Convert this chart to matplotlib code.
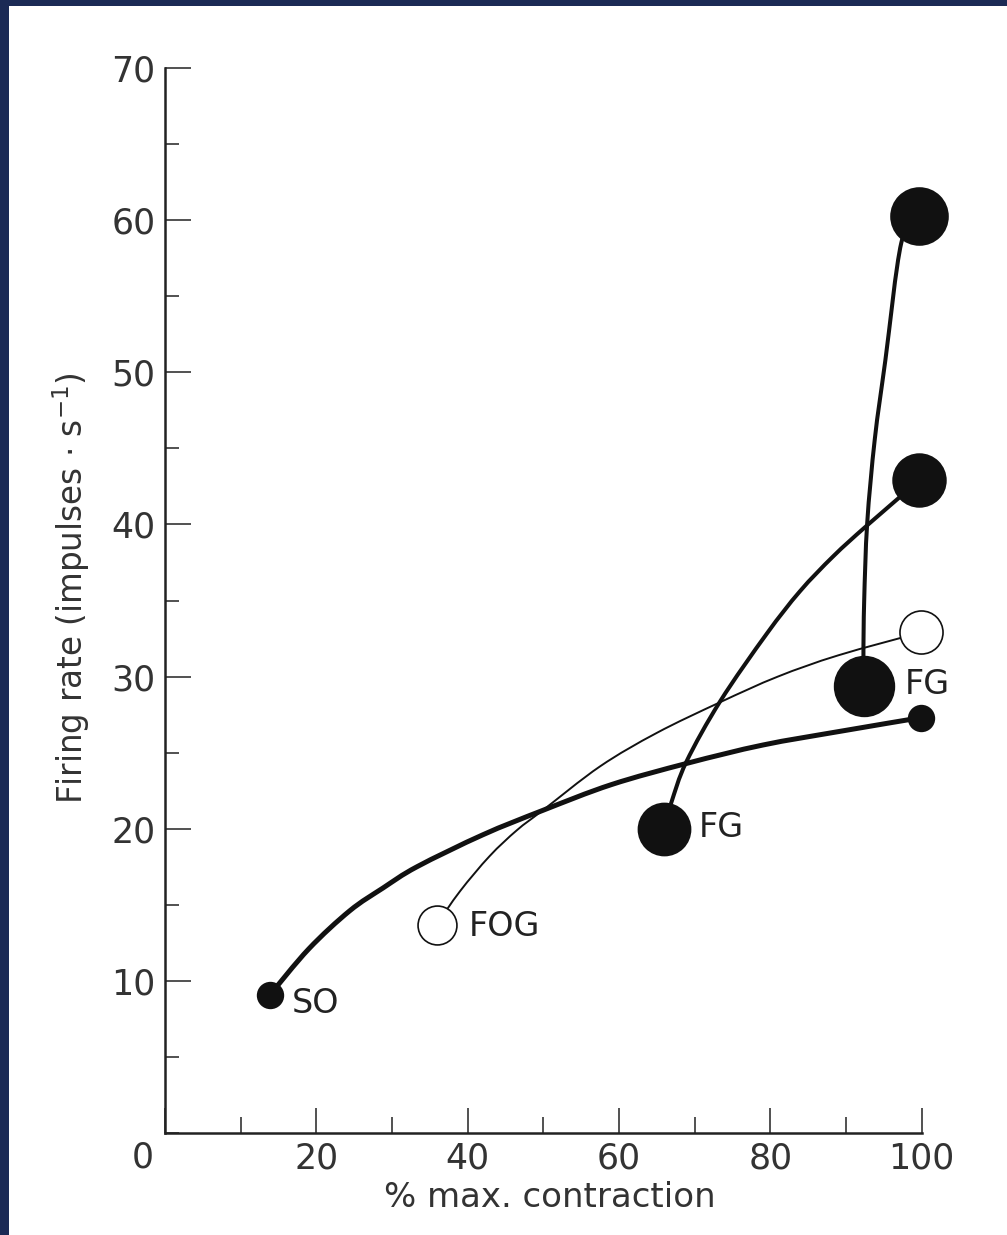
import matplotlib
matplotlib.use("Agg")
import matplotlib.pyplot as plt
from matplotlib.patches import Rectangle, PathPatch
from matplotlib.path import Path
from matplotlib.transforms import blended_transform_factory
from matplotlib.ticker import MultipleLocator

plt.rcParams['font.family'] = ['DejaVu Sans']

# --- data (x: % max contraction, y: firing rate) ---
so_x = [13.9, 19.0, 24.4, 28.8, 33.3, 42.0, 49.9, 59.0, 69.0, 79.0, 89.2, 99.9]
so_y = [9.1, 12.1, 14.6, 16.1, 17.5, 19.6, 21.2, 22.9, 24.3, 25.5, 26.4, 27.3]

fog_x = [35.9, 39.0, 42.9, 46.5, 49.9, 57.5, 65.0, 73.3, 81.0, 89.0, 99.9]
fog_y = [13.7, 15.9, 18.2, 19.9, 21.2, 24.1, 26.3, 28.3, 30.0, 31.4, 32.9]

fg1_x = [65.9, 66.9, 68.9, 73.4, 79.5, 83.9, 88.3, 92.7, 99.7]
fg1_y = [20.0, 21.7, 24.4, 28.4, 32.8, 35.6, 37.9, 39.9, 42.9]

fg2_x = [92.4, 92.3, 92.4, 92.8, 93.8, 95.2, 97.3, 99.6]
fg2_y = [29.4, 31.3, 35.0, 40.1, 45.6, 50.8, 58.5, 60.3]

# marker sizes (start, end) in points
so_ms = (18.5, 18.5)
fog_ms = (28.0, 31.0)
fg1_ms = (37.5, 38.0)
fg2_ms = (43.0, 41.0)

labels = ["SO", "FOG", "FG", "FG"]

xticks = [0, 20, 40, 60, 80, 100]
yticks = [10, 20, 30, 40, 50, 60, 70]

W, H = 1007, 1235
fig = plt.figure(figsize=(W / 100, H / 100), dpi=100)
fig.patch.set_facecolor("white")

# navy frame strips (left and top)
navy = "#1b2a55"
fig.patches.append(Rectangle((0, 0), 9 / W, 1, transform=fig.transFigure,
                             facecolor=navy, edgecolor="none", zorder=0))
fig.patches.append(Rectangle((0, 1 - 6 / H), 1, 6 / H, transform=fig.transFigure,
                             facecolor=navy, edgecolor="none", zorder=0))

x0, x1 = 165, 921.7
y0, y1 = 1133, 68
ax = fig.add_axes([x0 / W, 1 - y0 / H, (x1 - x0) / W, (y0 - y1) / H])
ax.set_xlim(0, 100)
ax.set_ylim(0, 70)

for s in ("top", "right"):
    ax.spines[s].set_visible(False)
for s in ("left", "bottom"):
    ax.spines[s].set_linewidth(1.8)
    ax.spines[s].set_color("#222222")

ax.set_xticks(xticks)
ax.set_xticklabels([""] + [str(v) for v in xticks[1:]])
ax.set_yticks(yticks)
ax.set_yticklabels([str(v) for v in yticks])
ax.xaxis.set_minor_locator(MultipleLocator(10))
ax.yaxis.set_minor_locator(MultipleLocator(5))
ax.tick_params(axis="x", which="major", direction="in", length=18, width=1.1,
               pad=6, labelsize=25, colors="#222222", labelcolor="#333333")
ax.tick_params(axis="x", which="minor", direction="in", length=11.5, width=1.1,
               colors="#222222")
ax.tick_params(axis="y", which="major", direction="in", length=19, width=1.1,
               pad=7, labelsize=25, colors="#222222", labelcolor="#333333")
ax.tick_params(axis="y", which="minor", direction="in", length=10, width=1.1,
               colors="#222222")

# origin "0" label, shifted left of the corner
tr = blended_transform_factory(ax.transData, ax.transAxes)
ax.text(-2.9, -0.0075, "0", transform=tr, ha="center", va="top",
        fontsize=25, color="#333333")

ax.set_xlabel("% max. contraction", fontsize=24.5, color="#333333", labelpad=4)
ax.xaxis.label.set_x(0.509)
ax.set_ylabel(r"Firing rate (impulses $\cdot$ s$^{-1}$)", fontsize=23.5,
              color="#333333", labelpad=14)
ax.yaxis.label.set_y(0.512)

ink = "#111111"

def smooth_path(xs, ys):
    """Catmull-Rom through the read points, as cubic Bezier segments."""
    pts = list(zip(xs, ys))
    n = len(pts)
    verts = [pts[0]]
    codes = [Path.MOVETO]
    for i in range(n - 1):
        p0 = pts[i - 1] if i > 0 else pts[i]
        p1 = pts[i]
        p2 = pts[i + 1]
        p3 = pts[i + 2] if i + 2 < n else pts[i + 1]
        c1 = (p1[0] + (p2[0] - p0[0]) / 6.0, p1[1] + (p2[1] - p0[1]) / 6.0)
        c2 = (p2[0] - (p3[0] - p1[0]) / 6.0, p2[1] - (p3[1] - p1[1]) / 6.0)
        verts += [c1, c2, p2]
        codes += [Path.CURVE4] * 3
    return Path(verts, codes)

for xs, ys, lw in [(so_x, so_y, 3.6), (fog_x, fog_y, 1.4),
                   (fg1_x, fg1_y, 2.9), (fg2_x, fg2_y, 2.9)]:
    ax.add_patch(PathPatch(smooth_path(xs, ys), facecolor="none", edgecolor=ink,
                           lw=lw, capstyle="round", zorder=3, clip_on=False))

def ends(xs, ys, sizes, filled):
    for (x, y, ms) in [(xs[0], ys[0], sizes[0]), (xs[-1], ys[-1], sizes[1])]:
        ax.plot([x], [y], "o", ms=ms, mfc=ink if filled else "white",
                mec=ink, mew=1.2, zorder=5, clip_on=False)

ends(so_x, so_y, so_ms, True)
ends(fog_x, fog_y, fog_ms, False)
ends(fg1_x, fg1_y, fg1_ms, True)
ends(fg2_x, fg2_y, fg2_ms, True)

lab_kw = dict(fontsize=24, color="#222222", va="center", ha="left")
ax.text(so_x[0] + 2.9, so_y[0] - 0.6, labels[0], **lab_kw)
ax.text(fog_x[0] + 4.3, fog_y[0] - 0.1, labels[1], **lab_kw)
ax.text(fg1_x[0] + 4.6, fg1_y[0] + 0.1, labels[2], **lab_kw)
ax.text(fg2_x[0] + 5.3, fg2_y[0] + 0.1, labels[3], **lab_kw)

fig.savefig("out.png", dpi=100)
